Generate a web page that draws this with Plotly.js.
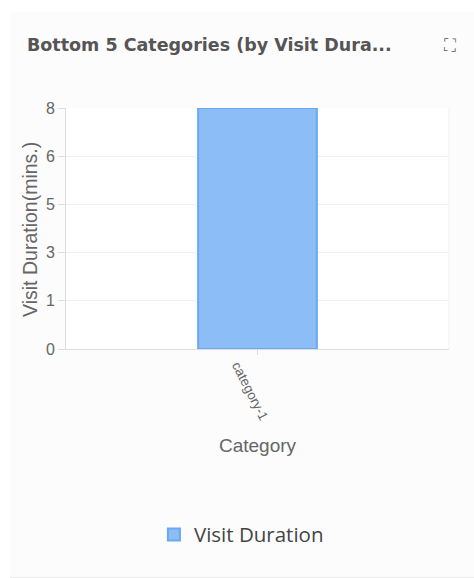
<!DOCTYPE html>
<html>
<head>
<meta charset="utf-8">
<script src="https://cdn.plot.ly/plotly-3.0.1.min.js"></script>
<style>
  html, body { margin: 0; padding: 0; background: #ffffff; }
  #card { position: absolute; left: 10px; top: 12px; width: 464px; height: 565px;
          background: #fcfcfc; border-bottom: 1px solid #ececec; }
  #chart { width: 464px; height: 565px; }
</style>
</head>
<body>
<div id="card"><div id="chart"></div></div>
<script>
const categories = ['category-1'];
const visitDuration = [8];
const yTickVals = [0, 1.6, 3.2, 4.8, 6.4, 8];
const yTickText = ['0', '1', '3', '5', '6', '8'];
const seriesName = 'Visit Duration';
const xTitle = 'Category';
const yTitle = 'Visit Duration(mins.)';

const trace = {
  type: 'bar',
  x: categories,
  y: visitDuration,
  name: seriesName,
  width: 0.31,
  marker: { color: '#8cbdf7', line: { color: '#6aa8f3', width: 2 } },
  showlegend: true,
  hoverinfo: 'x+y'
};

const axisFont = 'Liberation Sans, Arial, sans-serif';

const layout = {
  width: 464, height: 565,
  paper_bgcolor: '#fcfcfc',
  plot_bgcolor: '#ffffff',
  margin: { l: 56, r: 25, t: 96, b: 228 },
  font: { family: axisFont, color: '#666' },
  title: {
    text: '<b>Bottom 5 Categories (by Visit Dura...</b>',
    font: { family: 'DejaVu Sans, sans-serif', size: 17.5, color: '#555' },
    x: 17 / 464, xanchor: 'left', xref: 'container',
    y: 1 - 33 / 565, yanchor: 'middle', yref: 'container'
  },
  xaxis: {
    type: 'category',
    range: [-0.5, 0.5],
    showticklabels: false,
    ticks: 'outside', ticklen: 5, tickcolor: '#ddd',
    showline: true, linecolor: '#ddd', linewidth: 1, mirror: false,
    showgrid: false,
    title: { text: xTitle, font: { family: axisFont, size: 19, color: '#666' }, standoff: 84 }
  },
  yaxis: {
    range: [0, 8],
    tickvals: yTickVals,
    ticktext: yTickText,
    tickfont: { family: axisFont, size: 16, color: '#666' },
    ticks: 'outside', ticklen: 7, tickcolor: '#ddd',
    showline: true, linecolor: '#ddd', linewidth: 1,
    gridcolor: '#f0f0f0',
    zeroline: false
  },
  legend: {
    orientation: 'h',
    x: 0.458, xanchor: 'center',
    y: -0.77, yanchor: 'middle',
    font: { family: 'Open Sans, sans-serif', size: 20.5, color: '#444' },
    bgcolor: 'rgba(0,0,0,0)'
  },
  shapes: [
    { type: 'line', xref: 'paper', yref: 'paper', x0: 1, x1: 1, y0: 0, y1: 1, line: { color: '#f0f0f0', width: 1 } }
  ],
  annotations: [
    { text: yTitle, xref: 'paper', yref: 'paper', x: (20 - 56) / 383, y: 0.494,
      textangle: -90, xanchor: 'center', yanchor: 'middle', showarrow: false,
      font: { family: axisFont, size: 19.5, color: '#666' } },
    { text: categories[0], xref: 'x', yref: 'paper', x: categories[0], y: -0.174,
      xshift: -8, textangle: 63, xanchor: 'center', yanchor: 'middle', showarrow: false,
      font: { family: axisFont, size: 13.5, color: '#666' } },
    { text: '⛶', xref: 'paper', yref: 'paper', x: (440 - 56) / 383, y: 1 + (96 - 33) / 241,
      xanchor: 'center', yanchor: 'middle', showarrow: false,
      font: { family: 'DejaVu Sans', size: 17, color: '#555' } }
  ]
};

Plotly.newPlot('chart', [trace], layout, { displayModeBar: false, staticPlot: true });
</script>
</body>
</html>
